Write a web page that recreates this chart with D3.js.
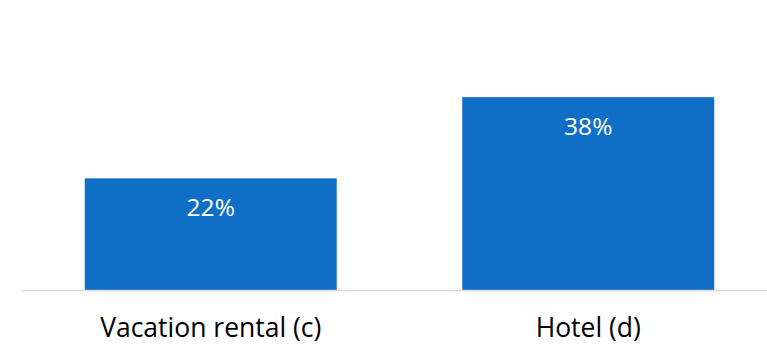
<!DOCTYPE html>
<html>
<head>
<meta charset="utf-8">
<script src="https://cdn.jsdelivr.net/npm/d3@7"></script>
<style>
  html, body { margin: 0; padding: 0; background: #fff; }
  svg { display: block; }
</style>
</head>
<body>
<svg id="chart" width="767" height="356"></svg>
<script>
// Share of stays by accommodation type
const categories = ["Vacation rental (c)", "Hotel (d)"];
const values = [22, 38];
const valueLabels = ["22%", "38%"];

const svg = d3.select("#chart");
const W = 767, H = 356;
const baseY = 290;

const x = d3.scaleBand()
  .domain(categories)
  .range([22, 777])
  .paddingInner(0.3325)
  .paddingOuter(0.16625);

const y = d3.scaleLinear()
  .domain([0, 40])
  .range([baseY, 87]);

// bars
svg.append("g")
  .selectAll("rect")
  .data(values)
  .join("rect")
  .attr("x", (d, i) => x(categories[i]))
  .attr("y", d => y(d))
  .attr("width", x.bandwidth())
  .attr("height", d => y(0) - y(d))
  .attr("fill", "#0F6FC6");

// baseline
svg.append("line")
  .attr("x1", 22).attr("x2", W)
  .attr("y1", baseY + 0.5).attr("y2", baseY + 0.5)
  .attr("stroke", "#D9D9D9")
  .attr("stroke-width", 1.5);

// value labels inside bars
svg.append("g")
  .selectAll("text")
  .data(values)
  .join("text")
  .attr("x", (d, i) => x(categories[i]) + x.bandwidth() / 2)
  .attr("y", d => y(d) + 38)
  .attr("text-anchor", "middle")
  .attr("fill", "#ffffff")
  .attr("font-family", "'Open Sans', sans-serif")
  .attr("font-size", 24.5)
  .text((d, i) => valueLabels[i]);

// category axis labels
const xAxis = d3.axisBottom(x).tickSize(0).tickPadding(0);
const gx = svg.append("g")
  .attr("transform", `translate(0,${baseY})`)
  .call(xAxis);
gx.select(".domain").remove();
gx.selectAll("text")
  .attr("dy", null)
  .attr("y", 47)
  .attr("fill", "#000")
  .attr("font-family", "'Open Sans', sans-serif")
  .attr("font-size", 26.5);
</script>
</body>
</html>
